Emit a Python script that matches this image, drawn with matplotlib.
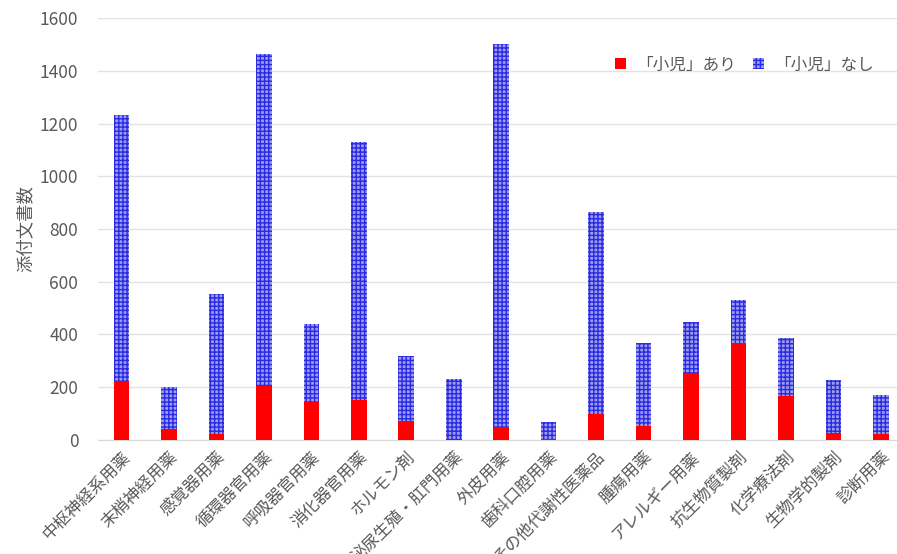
import matplotlib
matplotlib.use("Agg")
import matplotlib.pyplot as plt
import numpy as np

plt.rcParams['font.family'] = ['Noto Sans CJK JP', 'DejaVu Sans']
plt.rcParams['hatch.linewidth'] = 1.0

# categories and counts
categories = ["中枢神経系用薬", "末梢神経用薬", "感覚器用薬", "循環器官用薬", "呼吸器官用薬",
              "消化器官用薬", "ホルモン剤", "泌尿生殖・肛門用薬", "外皮用薬", "歯科口腔用薬",
              "その他代謝性医薬品", "腫瘍用薬", "アレルギー用薬", "抗生物質製剤", "化学療法剤",
              "生物学的製剤", "診断用薬"]
with_child = [224, 42, 23, 205, 143, 152, 71, 0, 48, 5, 98, 53, 254, 368, 168, 28, 21]
total = [1233, 200, 554, 1465, 441, 1131, 319, 231, 1500, 67, 865, 366, 446, 531, 385, 226, 169]
without_child = [t - w for t, w in zip(total, with_child)]

text_color = "#595959"

fig = plt.figure(figsize=(8.97, 5.54), dpi=100)
ax = fig.add_axes([0.109, 0.2058, 0.891, 0.7617])

x = np.arange(len(categories))
ax.bar(x, with_child, width=0.33, color="#ff0000", label="「小児」あり", zorder=3)
ax.bar(x, without_child, width=0.33, bottom=with_child, facecolor="#9c9cf0",
       edgecolor="#2a2ae0", linewidth=0, hatch="++++", label="「小児」なし", zorder=3)

ax.set_ylim(0, 1600)
ax.set_yticks(range(0, 1601, 200))
ax.set_xlim(-0.5, 16.34)
ax.set_xticks(x)
ax.set_xticklabels(categories, rotation=45, ha="right", rotation_mode="anchor",
                   fontsize=12, color=text_color)
ax.tick_params(axis="y", labelsize=12.5, labelcolor=text_color, length=0, pad=14)
ax.tick_params(axis="x", length=0, pad=6)
ax.grid(axis="y", color="#e3e3e3", linewidth=1, zorder=0)
for s in ["top", "right", "left"]:
    ax.spines[s].set_visible(False)
ax.spines["bottom"].set_color("#d9d9d9")

ax.set_ylabel("添付文書数", fontsize=12.5, color=text_color, labelpad=4)

leg = ax.legend(loc="center right", bbox_to_anchor=(0.99, 0.889), ncol=2, frameon=False,
                fontsize=12, handlelength=0.7, handleheight=0.7, columnspacing=1.0,
                handletextpad=0.6)
for t in leg.get_texts():
    t.set_color(text_color)

fig.savefig("out.png", dpi=100)
